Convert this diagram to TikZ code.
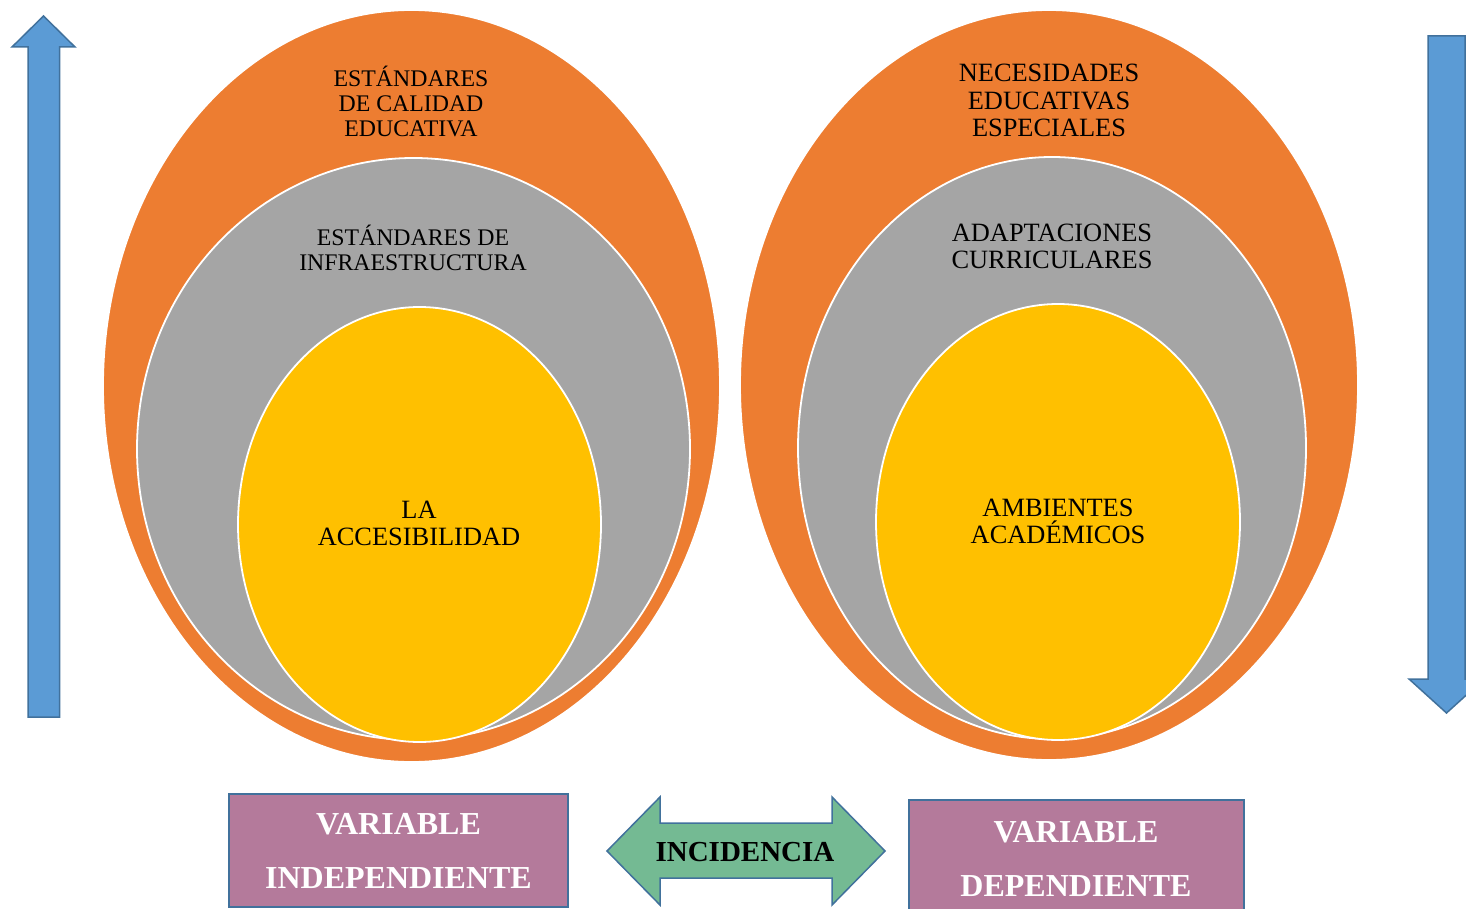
\documentclass[tikz,border=0pt]{standalone}
\usepackage{fontspec}
\setmainfont{Liberation Serif}
\definecolor{orangeC}{HTML}{ED7D31}
\definecolor{grayC}{HTML}{A5A5A5}
\definecolor{yellowC}{HTML}{FFC000}
\definecolor{blueC}{HTML}{5B9BD5}
\definecolor{edgeC}{HTML}{41719C}
\definecolor{purpleC}{HTML}{B47A9B}
\definecolor{greenC}{HTML}{74BA93}
\tikzset{
  ring/.style={draw=white, line width=1.8pt},
  lbl/.style={align=center, inner sep=0pt, text=black, font=\fontsize{23.8}{25}\selectfont},
  lblb/.style={align=center, inner sep=0pt, text=black, font=\fontsize{26.4}{27.5}\selectfont},
  blockarrow/.style={fill=blueC, draw=edgeC, line width=1.5pt, line join=miter},
  varbox/.style={fill=purpleC, draw=edgeC, line width=2pt, inner sep=0pt, align=center,
     text=white, font=\bfseries\fontsize{32}{54}\selectfont},
}
\begin{document}
\begin{tikzpicture}[x=1pt,y=-1pt]
\useasboundingbox (0,0) rectangle (1466,909);
\clip (0,0) rectangle (1466,909);
% left ellipses
\path[ring, fill=orangeC] (411.5,386) ellipse [x radius=308.5pt, y radius=376pt];
\path[ring, fill=grayC] (413.5,449) ellipse [x radius=276.5pt, y radius=291pt];
\path[ring, fill=yellowC] (419.5,524.5) ellipse [x radius=181.5pt, y radius=217.5pt];
% right ellipses
\path[ring, fill=orangeC] (1049,385) ellipse [x radius=309pt, y radius=375pt];
\path[ring, fill=grayC] (1052,448) ellipse [x radius=254pt, y radius=291pt];
\path[ring, fill=yellowC] (1058,522) ellipse [x radius=182pt, y radius=218pt];
% texts
\node[lbl] (t1) at (411,101.5) {ESTÁNDARES\\DE CALIDAD\\EDUCATIVA};
\node[lbl] (t2) at (413,247.5) {ESTÁNDARES DE\\INFRAESTRUCTURA};
\node[lblb] (t3) at (419,523.5) {LA\\ACCESIBILIDAD};
\node[lblb] (t4) at (1049,100.5) {NECESIDADES\\EDUCATIVAS\\ESPECIALES};
\node[lblb] (t5) at (1052,246.5) {ADAPTACIONES\\CURRICULARES};
\node[lblb] (t6) at (1058,521.5) {AMBIENTES\\ACADÉMICOS};
% up arrow
\path[blockarrow] (28,717) -- (28,47) -- (12,47) -- (43.5,16) -- (75,47) -- (59.5,47) -- (59.5,717) -- cycle;
% down arrow
\path[blockarrow] (1428,36) -- (1465,36) -- (1465,679) -- (1484,679) -- (1446.5,713) -- (1409,679) -- (1428,679) -- cycle;
% boxes
\node[varbox, minimum width=339pt, minimum height=113pt] (vi) at (398.5,850.5) {VARIABLE\\INDEPENDIENTE};
\node[varbox, minimum width=335pt, minimum height=120pt] (vd) at (1076.5,860) {};
\node[align=center, inner sep=0pt, text=white, font=\bfseries\fontsize{32}{54}\selectfont] (vdt) at (1076,858.5) {VARIABLE\\DEPENDIENTE};
% double arrow
\path[fill=greenC, draw=edgeC, line width=1.5pt, line join=miter]
  (607,851) -- (660,797) -- (660,823) -- (832,823) -- (832,797) -- (885,851) -- (832,905) -- (832,878) -- (660,878) -- (660,905) -- cycle;
\node[inner sep=0pt, font=\bfseries\fontsize{29}{29}\selectfont] (inc) at (745,852) {INCIDENCIA};
\end{tikzpicture}
\end{document}
